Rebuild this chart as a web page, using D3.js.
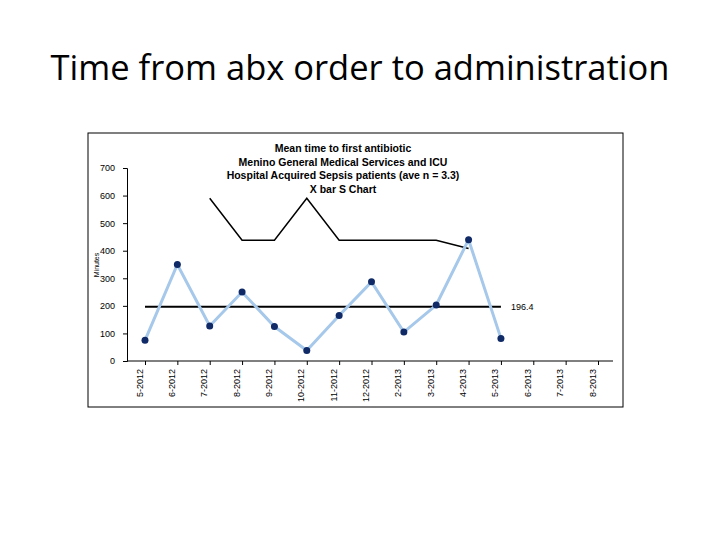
<!DOCTYPE html>
<html><head><meta charset="utf-8">
<script src="https://cdn.jsdelivr.net/npm/d3@7"></script>
<style>body{margin:0;background:#fff}</style>
</head><body>
<script>
var months = ["5-2012","6-2012","7-2012","8-2012","9-2012","10-2012","11-2012","12-2012","2-2013","3-2013","4-2013","5-2013","6-2013","7-2013","8-2013"];
var meanTime = [75, 350, 127, 250, 125, 38, 165, 287, 105, 203, 440, 82];
var ucl = [null, null, 590, 438, 438, 590, 438, 438, 438, 438, 408];
var centerLine = 196.4;
var yTicks = [0, 100, 200, 300, 400, 500, 600, 700];

var svg = d3.select("body").append("svg").attr("width", 720).attr("height", 540);

svg.append("text").attr("x", 360).attr("y", 80).attr("text-anchor", "middle")
  .style("font-family", "Open Sans, sans-serif").style("font-size", "34.5px")
  .text("Time from abx order to administration");

svg.append("rect").attr("x", 88).attr("y", 133).attr("width", 535).attr("height", 274)
  .attr("fill", "#fff").attr("stroke", "#000").attr("stroke-width", 1);

var xScale = d3.scalePoint().domain(months).range([145, 598]);
var yScale = d3.scaleLinear().domain([0, 700]).range([361, 168]);

var titleLines = ["Mean time to first antibiotic", "Menino General Medical Services and ICU",
  "Hospital Acquired Sepsis patients (ave n = 3.3)", "X bar S Chart"];
svg.append("g").selectAll("text").data(titleLines).enter().append("text")
  .attr("x", 343).attr("y", function(d, i) { return 152 + i * 13.5; })
  .attr("text-anchor", "middle").style("font-family", "Liberation Sans, Arial")
  .style("font-size", "10.5px").style("font-weight", "bold").text(function(d) { return d; });

var yAxis = svg.append("g").attr("transform", "translate(127,0)")
  .call(d3.axisLeft(yScale).tickValues(yTicks).tickSize(4).tickPadding(8));
yAxis.selectAll("text").style("font-family", "Liberation Sans, Arial").style("font-size", "9px");

var xAxis = svg.append("g").attr("transform", "translate(0,361)")
  .call(d3.axisBottom(xScale).tickSize(4));
xAxis.select(".domain").attr("d", "M127,0H613");
xAxis.selectAll("text").attr("transform", "rotate(-90)").attr("text-anchor", "end")
  .attr("x", -8).attr("y", -3).attr("dy", "0").attr("fill", "#000")
  .style("font-family", "Liberation Sans, Arial").style("font-size", "9px");

svg.append("text").attr("transform", "translate(99,265) rotate(-90)").attr("text-anchor", "middle")
  .style("font-family", "Liberation Sans, Arial").style("font-size", "7px").text("Minutes");

// center line
svg.append("line").attr("x1", xScale(months[0])).attr("x2", xScale(months[11]))
  .attr("y1", yScale(centerLine)).attr("y2", yScale(centerLine)).attr("stroke", "#000").attr("stroke-width", 2);
svg.append("text").attr("x", xScale(months[11]) + 10).attr("y", yScale(centerLine) + 3)
  .style("font-family", "Liberation Sans, Arial").style("font-size", "9px").text(centerLine);

// UCL
var uclLine = d3.line().defined(function(d) { return d != null; })
  .x(function(d, i) { return xScale(months[i]); }).y(function(d) { return yScale(d); });
svg.append("path").datum(ucl).attr("fill", "none").attr("stroke", "#000").attr("stroke-width", 1.5).attr("d", uclLine);

// means
var meanLine = d3.line().x(function(d, i) { return xScale(months[i]); }).y(function(d) { return yScale(d); });
svg.append("path").datum(meanTime).attr("fill", "none").attr("stroke", "#a6c8ea").attr("stroke-width", 3).attr("d", meanLine);
svg.selectAll(".dot").data(meanTime).enter().append("circle").attr("class", "dot")
  .attr("cx", function(d, i) { return xScale(months[i]); }).attr("cy", function(d) { return yScale(d); })
  .attr("r", 3.5).style("fill", "#0f2a66");
</script>
</body></html>
